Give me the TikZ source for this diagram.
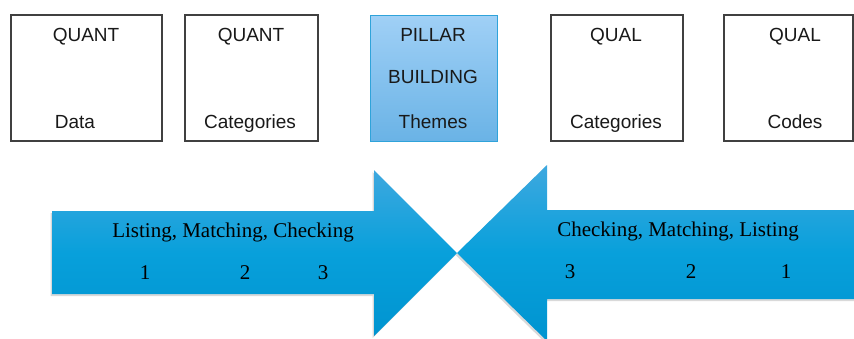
\documentclass[tikz,border=0pt]{standalone}
\usepackage{fontspec}
\setmainfont{Liberation Serif}
\newfontfamily\boxfont{Liberation Sans}
\usetikzlibrary{shadows}
\definecolor{boxline}{HTML}{404040}
\definecolor{pilltop}{HTML}{A0D0F6}
\definecolor{pillbot}{HTML}{6AB3E6}
\definecolor{pillline}{HTML}{2FA3DA}
\definecolor{arrtop}{HTML}{3EA8DF}
\definecolor{arrmid}{HTML}{08A0DB}
\definecolor{arrbot}{HTML}{0094D0}
\tikzset{
  card/.style={draw=boxline, line width=1.2pt, fill=white, minimum height=126pt, inner sep=0pt},
  pillar/.style={draw=pillline, line width=1pt, top color=pilltop, bottom color=pillbot, minimum height=126pt, inner sep=0pt},
  boxtext/.style={font=\boxfont\fontsize{19}{21}\selectfont, text=black!90, inner sep=0pt, anchor=base},
  arrowbody/.style={top color=arrtop, bottom color=arrbot, middle color=arrmid,
    drop shadow={shadow xshift=-1.5pt, shadow yshift=-2pt, opacity=0.15, fill=black}},
  arrtext/.style={font=\fontsize{21}{23}\selectfont, text=black, inner sep=0pt, anchor=base}
}
\begin{document}
\begin{tikzpicture}[x=1pt,y=-1pt]
\useasboundingbox (0,0) rectangle (854,338);
\clip (0,0) rectangle (854,338);
% top boxes
\node[card, minimum width=151pt] (b1) at (86.5,78) {};
\node[card, minimum width=133pt] (b2) at (251.5,78) {};
\node[pillar, minimum width=127pt] (b3) at (433.5,78) {};
\node[card, minimum width=132pt] (b4) at (617,78) {};
\node[card, minimum width=129pt] (b5) at (788.5,78) {};
\node[boxtext] (t1a) at (86,41.5) {QUANT};
\node[boxtext] (t1b) at (75,128.5) {Data};
\node[boxtext] (t2a) at (251,41.5) {QUANT};
\node[boxtext] (t2b) at (250,128.5) {Categories};
\node[boxtext] (t3a) at (433,41.5) {PILLAR};
\node[boxtext] (t3b) at (433,83.5) {BUILDING};
\node[boxtext] (t3c) at (433,128.5) {Themes};
\node[boxtext] (t4a) at (616,41.5) {QUAL};
\node[boxtext] (t4b) at (616,128.5) {Categories};
\node[boxtext] (t5a) at (795,41.5) {QUAL};
\node[boxtext] (t5b) at (795,128.5) {Codes};
% arrows
\path[arrowbody] (52,211) -- (374,211) -- (374,170) -- (457,253) -- (374,336) -- (374,294) -- (52,294) -- cycle;
\path[arrowbody] (856,210) -- (547,210) -- (547,165) -- (457,253) -- (547,341) -- (547,299) -- (856,299) -- cycle;
\node[arrtext] (l1) at (233,237.5) {Listing, Matching, Checking};
\node[arrtext] (l2) at (145,279.5) {1};
\node[arrtext] (l3) at (245,279.5) {2};
\node[arrtext] (l4) at (323,279.5) {3};
\node[arrtext] (r1) at (678,236) {Checking, Matching, Listing};
\node[arrtext] (r2) at (570,278) {3};
\node[arrtext] (r3) at (691,278) {2};
\node[arrtext] (r4) at (786,278) {1};
\end{tikzpicture}
\end{document}
